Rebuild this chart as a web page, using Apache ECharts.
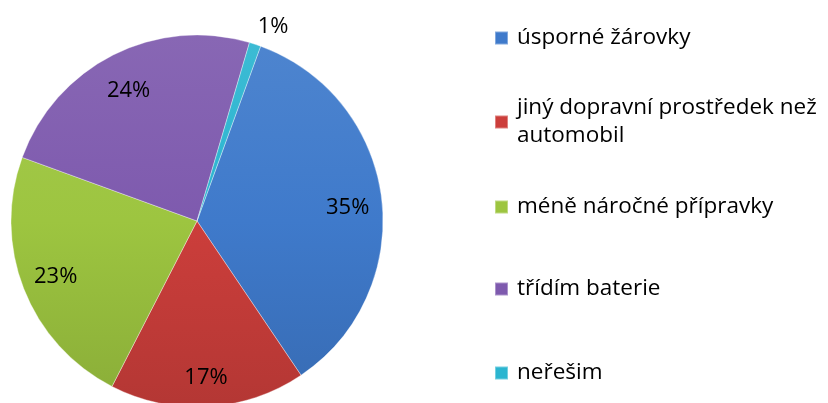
<!DOCTYPE html>
<html>
<head>
<meta charset="utf-8">
<script src="https://cdn.jsdelivr.net/npm/echarts@6/dist/echarts.min.js"></script>
<style>html,body{margin:0;padding:0;background:#fff}#c{width:828px;height:403px}</style>
</head>
<body>
<div id="c"></div>
<script>
const categories = ['úsporné žárovky', 'jiný dopravní prostředek než\nautomobil', 'méně náročné přípravky', 'třídím baterie', 'neřešim'];
const values = [35, 17, 23, 24, 1];
const colors = ['#3F7ACB', '#CC3E3B', '#9DC540', '#7E5AAE', '#2BB5D0'];

const FONT = 'Open Sans';
const chart = echarts.init(document.getElementById('c'));
const center = [197, 221];
const R = 186;

function shade(hex, f) {
  const n = parseInt(hex.slice(1), 16);
  let r = (n >> 16) & 255, g = (n >> 8) & 255, b = n & 255;
  const m = c => Math.max(0, Math.min(255, Math.round(f > 0 ? c + (255 - c) * f : c * (1 + f))));
  return 'rgb(' + m(r) + ',' + m(g) + ',' + m(b) + ')';
}
function grad(hex) {
  return new echarts.graphic.LinearGradient(0, center[1] - R, 0, center[1] + R, [
    { offset: 0, color: shade(hex, 0.08) },
    { offset: 0.5, color: hex },
    { offset: 1, color: shade(hex, -0.12) }
  ], true);
}
const data = categories.map((n, i) => ({ name: n, value: values[i], itemStyle: { color: grad(colors[i]) } }));

const legendTops = [24, 80, 193, 275, 359];
const legends = categories.map((n, i) => ({
  data: [{ name: n, itemStyle: { color: colors[i] } }],
  left: 494,
  top: legendTops[i],
  orient: 'vertical',
  padding: 0,
  itemWidth: 13,
  itemHeight: 13,
  icon: 'rect',
  selectedMode: false,
  textStyle: {
    fontFamily: FONT, fontSize: 22.5, color: '#000', lineHeight: 28,
    padding: i === 1 ? [28, 0, 0, 4] : [0, 0, 0, 4]
  }
}));

const labelOffsets = [[0, 5], [0, 5], [0, 0], [0, 5], [-8, 0]];

chart.setOption({
  animation: false,
  legend: legends,
  series: [
    {
      type: 'pie',
      center: center,
      radius: R,
      startAngle: 70,
      clockwise: true,
      silent: true,
      data: data,
      label: { show: false },
      labelLine: { show: false },
      itemStyle: { borderColor: 'rgba(255,255,255,0.35)', borderWidth: 1 }
    },
    {
      type: 'pie',
      center: center,
      radius: [R * 0.6, R],
      startAngle: 70,
      clockwise: true,
      silent: true,
      legendHoverLink: false,
      data: categories.map((n, i) => ({
        name: n, value: values[i],
        itemStyle: { color: 'rgba(0,0,0,0)' },
        label: i === 4 ? { position: 'outside', offset: labelOffsets[i] } : { offset: labelOffsets[i] }
      })),
      label: {
        show: true, position: 'inside', formatter: '{d}%',
        fontFamily: FONT, fontSize: 22, color: '#000'
      },
      labelLine: { show: false, length: 18, length2: 0 }
    }
  ]
});
</script>
</body>
</html>
